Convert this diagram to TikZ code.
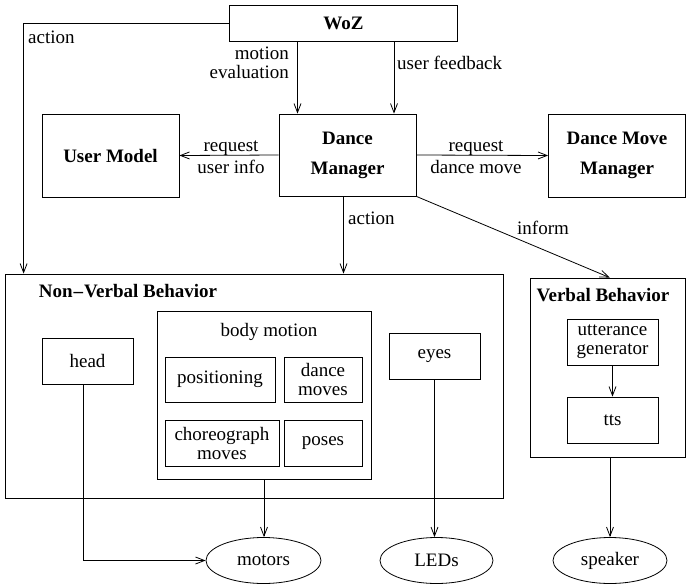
\documentclass[tikz,border=0pt]{standalone}
\usepackage{fontspec}
\setmainfont{Liberation Serif}
\usetikzlibrary{arrows.meta,shapes.geometric}

\tikzset{
  every node/.style={font=\fontsize{19}{19}\selectfont, inner sep=0pt},
  blk/.style={draw, line width=0.8pt},
  hd/.style={font=\fontsize{19}{19}\selectfont\bfseries},
  arr/.style={line width=0.8pt, -{Straight Barb[length=9pt,width=7pt]}},
}

\begin{document}
\begin{tikzpicture}[x=1pt,y=-1pt]
    \useasboundingbox (0,0) rectangle (686,584);
    % upper row
    \node[blk,hd,minimum width=228,minimum height=36] (woz) at (343.5,23) {WoZ};
    \node[blk,hd,minimum width=137,minimum height=83] (um) at (110.5,155.5) {User Model};
    \node[blk,hd,align=center,minimum width=137,minimum height=82] (dm) at (347.5,155) {Dance\\[11pt]Manager};
    \node[blk,hd,align=center,minimum width=137,minimum height=83] (dmm) at (617,155.5) {Dance Move\\[11pt]Manager};
    % non-verbal part
    \node[blk,minimum width=498,minimum height=224] (nvb) at (254,386) {};
    \node[hd] (nvbtitle) at (128,291) {Non\kern1pt--\kern1ptVerbal Behavior};
    \node[blk,minimum width=214,minimum height=168] (bm) at (264,395) {};
    \node (bmtitle) at (269,332) {body motion};
    \node[blk,minimum width=110,minimum height=45] (pos) at (220,379.5) {positioning};
    \node[blk,align=center,minimum width=78,minimum height=45] (dmv) at (323,379.5) {dance\\[0pt]moves};
    \node[blk,align=center,minimum width=114,minimum height=46] (cho) at (222,443) {choreograph\\[0pt]moves};
    \node[blk,minimum width=78,minimum height=46] (pose) at (323,443) {poses};
    \node[blk,minimum width=91,minimum height=46] (head) at (87.5,361) {head};
    \node[blk,minimum width=91,minimum height=46] (eyes) at (434.5,356) {eyes};
    % verbal part
    \node[blk,minimum width=155.5,minimum height=179] (vb) at (607.75,367.5) {};
    \node[hd] (vbtitle) at (603,295) {Verbal Behavior};
    \node[blk,align=center,minimum width=91,minimum height=46] (utt) at (612.5,342) {utterance\\[0pt]generator};
    \node[blk,minimum width=91,minimum height=46] (tts) at (612.5,420) {tts};
    % outputs
    \node[blk,ellipse,minimum width=115,minimum height=46] (motors) at (263.5,560.5) {motors};
    \node[blk,ellipse,minimum width=113,minimum height=46] (leds) at (436.5,560.5) {LEDs};
    \node[blk,ellipse,minimum width=114,minimum height=46] (speaker) at (610,560.5) {speaker};
    % connectors
    \draw[arr] (woz.west) -| ([xshift=19pt]nvb.north west);
    \draw[arr] ([xshift=-50pt]dm.north |- woz.south) -- ([xshift=-50pt]dm.north);
    \draw[arr] ([xshift=46.5pt]dm.north |- woz.south) -- ([xshift=46.5pt]dm.north);
    \draw[arr] (dm.west) -- (um.east);
    \draw[arr] (dm.east) -- (dmm.west);
    \draw[arr] ([xshift=-4pt]dm.south) -- ([xshift=-4pt]dm.south |- nvb.north);
    \draw[arr] (dm.south east) -- ([xshift=2pt]vb.north);
    \draw[arr] (utt) -- (tts);
    \draw[arr] ([xshift=-4.5pt]head.south) |- (motors.west);
    \draw[arr] (bm.south) -- (bm.south |- motors.north);
    \draw[arr] (eyes.south) -- (eyes.south |- leds.north);
    \draw[arr] (speaker.north |- vb.south) -- (speaker.north);
    % connector texts
    \node[anchor=west] (lact) at (28,37) {action};
    \node[anchor=east,align=right] (leval) at (289,63) {motion\\[0pt]evaluation};
    \node[anchor=west] (lfeed) at (397,63) {user feedback};
    \node[align=center] (lrequ) at (231,157) {request\\[3pt]user info};
    \node[align=center] (lreqd) at (476,157) {request\\[3pt]dance move};
    \node[anchor=west] (lact2) at (348,218) {action};
    \node (linf) at (543,228) {inform};
\end{tikzpicture}
\end{document}
